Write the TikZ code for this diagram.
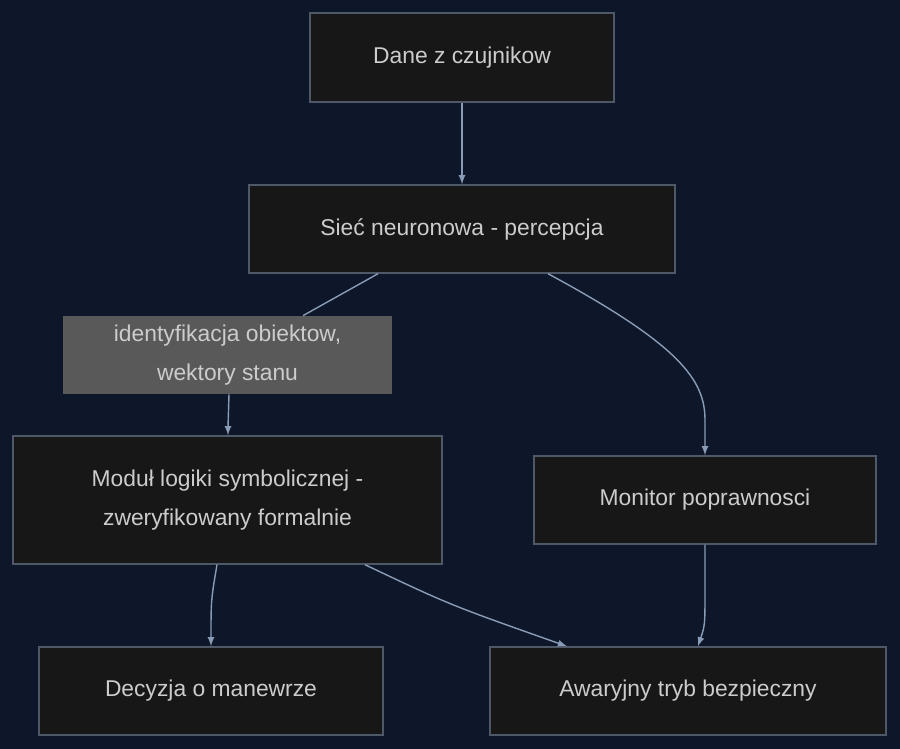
\documentclass[tikz,border=0pt]{standalone}
\usepackage{fontspec}
\setmainfont{Liberation Sans}
\definecolor{bgcol}{HTML}{0E1729}
\definecolor{boxfill}{HTML}{171717}
\definecolor{boxline}{HTML}{4F5866}
\definecolor{txtcol}{HTML}{CCCCCC}
\definecolor{edgecol}{HTML}{8A9BB5}
\definecolor{labfill}{HTML}{595959}
\tikzset{
    box/.style={draw=boxline, fill=boxfill, text=txtcol, line width=0.8pt,
        inner sep=0pt, align=center, font=\fontsize{13}{22}\selectfont},
    lab/.style={fill=labfill, text=txtcol, inner sep=0pt, align=center,
        font=\fontsize{13}{22}\selectfont},
    edge/.style={draw=edgecol, line width=0.8pt},
}
\begin{document}
\begin{tikzpicture}[x=0.02cm, y=-0.02cm, >=latex]
    \fill[bgcol] (0,0) rectangle (900,749);
    \useasboundingbox (0,0) rectangle (900,749);
    \node [box, minimum width=304*0.02cm, minimum height=89*0.02cm] (dane) at (462,57.5) {Dane z czujnikow};
    \node [box, minimum width=426*0.02cm, minimum height=88*0.02cm] (siec) at (462,229) {Sieć neuronowa - percepcja};
    \node [lab, minimum width=329*0.02cm, minimum height=78*0.02cm] (ident) at (227.5,355) {identyfikacja obiektow,\\wektory stanu};
    \node [box, minimum width=429*0.02cm, minimum height=128*0.02cm] (modul) at (227.5,500) {Moduł logiki symbolicznej -\\zweryfikowany formalnie};
    \node [box, minimum width=342*0.02cm, minimum height=88*0.02cm] (monitor) at (705,500) {Monitor poprawnosci};
    \node [box, minimum width=344*0.02cm, minimum height=88*0.02cm] (decyzja) at (211,691) {Decyzja o manewrze};
    \node [box, minimum width=396*0.02cm, minimum height=88*0.02cm] (awaryjny) at (688,691) {Awaryjny tryb bezpieczny};

    \draw [edge, ->] (dane) -- (siec);
    \draw [edge] (siec.south -| 378,0) -- (ident.north -| 303,0);
    \draw [edge, ->] (ident.south -| 229,0) .. controls (228,410) .. (modul.north -| 228,0);
    \draw [edge, ->] (siec.south -| 548,0) .. controls (680,345) and (705,380) .. (705,420) -- (monitor.north);
    \draw [edge, ->] (modul.south -| 217,0) .. controls (211,600) .. (decyzja.north);
    \draw [edge, ->] (modul.south -| 365,0) .. controls (450,605) .. (awaryjny.north -| 567,0);
    \draw [edge, ->] (monitor.south) -- (705,590) .. controls (705,625) .. (awaryjny.north -| 698,0);
\end{tikzpicture}
\end{document}
